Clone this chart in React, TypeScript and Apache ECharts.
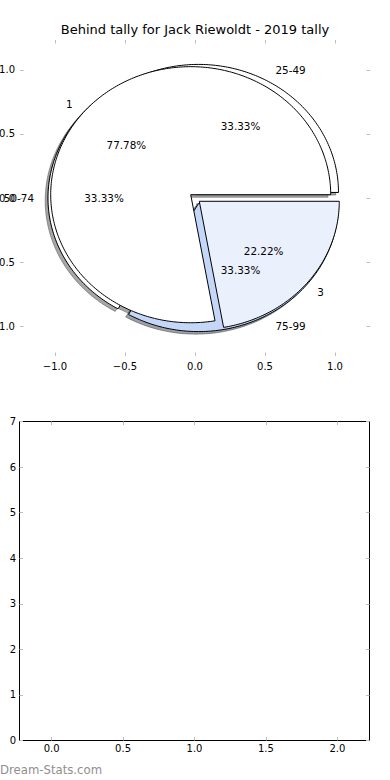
import React, { useEffect, useRef } from "react";
import * as echarts from "echarts";

// ---- data ----
const titleText = "Behind tally for Jack Riewoldt - 2019 tally";
const watermarkText = "Dream-Stats.com";

// pie drawn on top (tally)
const tallyLabels = ["1", "3"];
const tallyValues = [7, 2];
// pie drawn underneath (ranges)
const rangeLabels = ["25-49", "50-74", "75-99"];
const rangeValues = [1, 1, 1];

// tick labels
const pieTicks = [-1, -0.5, 0, 0.5, 1];
const bottomXTicks = [0, 0.5, 1, 1.5, 2];
const bottomYTicks = [0, 1, 2, 3, 4, 5, 6, 7];

// ---- styles ----
const FONT = "'DejaVu Sans', sans-serif";
const tallyColors = ["#ffffff", "#eaf1fd"];
const rangeColors = ["#ffffff", "#ffffff", "#c4d7f8"];
const tallyExplode = [0.04, 0.04];
const rangeExplode = [0.05, 0.05, 0.05];
const TICK_COLOR = "#bdbdbd";

type Slice = {
  ox: number;
  oy: number;
  t1: number;
  t2: number;
  mid: number;
  color: string;
  label: string;
  pct: string;
};

function buildPie(labels: string[], values: number[], explode: number[], colors: string[]): Slice[] {
  const total = values.reduce((a, b) => a + b, 0);
  let theta = 0;
  return values.map((v, i) => {
    const t1 = theta;
    const t2 = theta + (360 * v) / total;
    theta = t2;
    const mid = ((t1 + t2) / 2) * (Math.PI / 180);
    return {
      ox: explode[i] * Math.cos(mid),
      oy: explode[i] * Math.sin(mid),
      t1,
      t2,
      mid,
      color: colors[i],
      label: labels[i],
      pct: ((100 * v) / total).toFixed(2) + "%",
    };
  });
}

const slices: Slice[] = [
  ...buildPie(rangeLabels, rangeValues, rangeExplode, rangeColors),
  ...buildPie(tallyLabels, tallyValues, tallyExplode, tallyColors),
];

function shadowColor(hex: string): string {
  const r = parseInt(hex.slice(1, 3), 16);
  const g = parseInt(hex.slice(3, 5), 16);
  const b = parseInt(hex.slice(5, 7), 16);
  return `rgba(${Math.round(r * 0.3)},${Math.round(g * 0.3)},${Math.round(b * 0.3)},0.5)`;
}

function wedgePoints(api: any, s: Slice, dx: number, dy: number) {
  const cx = s.ox + dx;
  const cy = s.oy + dy;
  const pts: number[][] = [api.coord([cx, cy])];
  const n = Math.max(2, Math.ceil(s.t2 - s.t1));
  for (let k = 0; k <= n; k++) {
    const t = ((s.t1 + ((s.t2 - s.t1) * k) / n) * Math.PI) / 180;
    pts.push(api.coord([cx + Math.cos(t), cy + Math.sin(t)]));
  }
  return pts;
}

const fmtPie = (v: number) => v.toFixed(1).replace("-", "\u2212");

function pieAxisX(position: "bottom" | "top", showLabel: boolean) {
  return {
    gridIndex: 0,
    type: "value",
    min: -1.25,
    max: 1.25,
    position,
    axisLine: { show: false, onZero: false },
    splitLine: { show: false },
    axisTick: { show: true, inside: true, length: 3.5, customValues: pieTicks, lineStyle: { color: TICK_COLOR, width: 1 } },
    axisLabel: {
      show: showLabel,
      customValues: pieTicks,
      formatter: fmtPie,
      margin: 5,
      fontSize: 10,
      color: "#000",
      fontFamily: FONT,
    },
  };
}

function pieAxisY(position: "left" | "right", showLabel: boolean) {
  return {
    gridIndex: 0,
    type: "value",
    min: -1.234,
    max: 1.234,
    position,
    axisLine: { show: false, onZero: false },
    splitLine: { show: false },
    axisTick: { show: true, inside: true, length: 3.5, customValues: pieTicks, lineStyle: { color: TICK_COLOR, width: 1 } },
    axisLabel: {
      show: showLabel,
      customValues: pieTicks,
      formatter: fmtPie,
      margin: 5,
      fontSize: 10,
      color: "#000",
      fontFamily: FONT,
    },
  };
}

function barAxisX(position: "bottom" | "top", showLabel: boolean) {
  return {
    gridIndex: 1,
    type: "value",
    min: -0.225,
    max: 2.225,
    position,
    axisLine: { show: false, onZero: false },
    splitLine: { show: false },
    axisTick: { show: true, inside: true, length: 3.5, customValues: bottomXTicks, lineStyle: { color: TICK_COLOR, width: 1 } },
    axisLabel: {
      show: showLabel,
      customValues: bottomXTicks,
      formatter: (v: number) => v.toFixed(1),
      margin: 3,
      fontSize: 10,
      color: "#000",
      fontFamily: FONT,
    },
  };
}

function barAxisY(position: "left" | "right", showLabel: boolean) {
  return {
    gridIndex: 1,
    type: "value",
    min: 0,
    max: 7,
    position,
    axisLine: { show: false, onZero: false },
    splitLine: { show: false },
    axisTick: { show: true, inside: true, length: 3.5, customValues: bottomYTicks, lineStyle: { color: TICK_COLOR, width: 1 } },
    axisLabel: {
      show: showLabel,
      customValues: bottomYTicks,
      formatter: (v: number) => String(v),
      margin: 3.5,
      fontSize: 10,
      color: "#000",
      fontFamily: FONT,
    },
  };
}

const indexData = slices.map((_, i) => [i, 0]);

const option: any = {
  animation: false,
  backgroundColor: "#ffffff",
  grid: [
    { left: 20, top: 40, width: 350, height: 316, show: false, containLabel: false, outerBoundsMode: "none" },
    {
      left: 19.5,
      top: 421.5,
      width: 350,
      height: 319,
      show: true,
      borderColor: "#000",
      borderWidth: 1,
      backgroundColor: "transparent",
      containLabel: false,
      outerBoundsMode: "none",
    },
  ],
  xAxis: [pieAxisX("bottom", true), pieAxisX("top", false), barAxisX("bottom", true), barAxisX("top", false)],
  yAxis: [pieAxisY("left", true), pieAxisY("right", false), barAxisY("left", true), barAxisY("right", false)],
  graphic: [
    {
      type: "text",
      x: 195,
      y: 29.5,
      style: { text: titleText, align: "center", verticalAlign: "middle", fontSize: 13, fontFamily: FONT, fill: "#000" },
    },
    {
      type: "text",
      x: 0,
      y: 769.5,
      style: { text: watermarkText, align: "left", verticalAlign: "middle", fontSize: 11.7, fontFamily: FONT, fill: "#8f8f8f" },
    },
  ],
  series: [
    {
      type: "custom",
      name: "shadows",
      xAxisIndex: 0,
      yAxisIndex: 0,
      silent: true,
      z: 1,
      data: indexData,
      renderItem: (_params: any, api: any) => {
        const s = slices[api.value(0)];
        const c = shadowColor(s.color);
        return {
          type: "polygon",
          shape: { points: wedgePoints(api, s, -0.02, -0.02) },
          style: { fill: c, stroke: c, lineWidth: 1 },
        };
      },
    },
    {
      type: "custom",
      name: "wedges",
      xAxisIndex: 0,
      yAxisIndex: 0,
      silent: true,
      z: 2,
      data: indexData,
      renderItem: (_params: any, api: any) => {
        const s = slices[api.value(0)];
        return {
          type: "polygon",
          shape: { points: wedgePoints(api, s, 0, 0) },
          style: { fill: s.color, stroke: "#000", lineWidth: 1, lineJoin: "miter" },
        };
      },
    },
    {
      type: "custom",
      name: "labels",
      xAxisIndex: 0,
      yAxisIndex: 0,
      silent: true,
      z: 3,
      data: indexData,
      renderItem: (_params: any, api: any) => {
        const s = slices[api.value(0)];
        const cx = Math.cos(s.mid);
        const cy = Math.sin(s.mid);
        const lp = api.coord([s.ox + 1.1 * cx, s.oy + 1.1 * cy]);
        const pp = api.coord([s.ox + 0.6 * cx, s.oy + 0.6 * cy]);
        return {
          type: "group",
          children: [
            {
              type: "text",
              x: lp[0],
              y: lp[1],
              style: {
                text: s.label,
                align: s.ox + 1.1 * cx > 0 ? "left" : "right",
                verticalAlign: "middle",
                fontSize: 10.4,
                fontFamily: FONT,
                fill: "#000",
              },
            },
            {
              type: "text",
              x: pp[0],
              y: pp[1],
              style: {
                text: s.pct,
                align: "center",
                verticalAlign: "middle",
                fontSize: 10.4,
                fontFamily: FONT,
                fill: "#000",
              },
            },
          ],
        };
      },
    },
  ],
};

export default function App() {
  const ref = useRef<HTMLDivElement>(null);
  useEffect(() => {
    if (!ref.current) return;
    const chart = echarts.init(ref.current, null, { renderer: "svg" });
    chart.setOption(option);
    return () => chart.dispose();
  }, []);
  return (
    <div
      ref={ref}
      style={{ position: "absolute", left: 0, top: 0, width: 390, height: 780, background: "#fff" }}
    />
  );
}
